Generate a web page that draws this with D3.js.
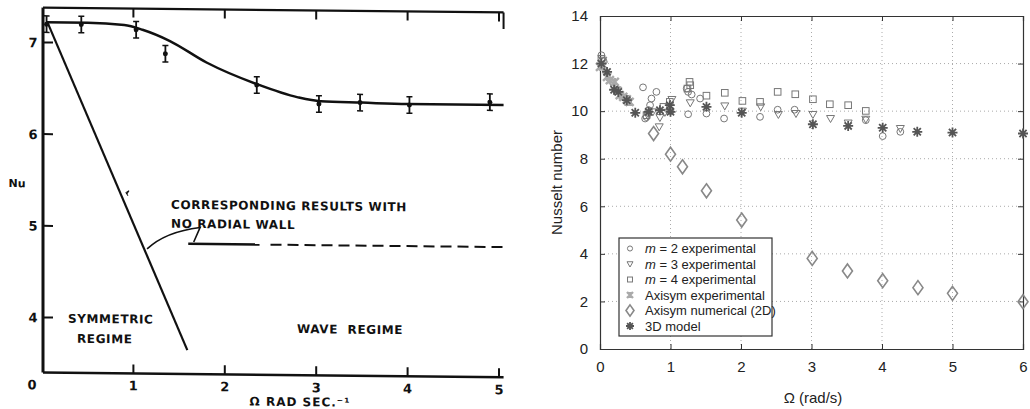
<!DOCTYPE html>
<meta charset="utf-8">
<script src="https://d3js.org/d3.v7.min.js"></script>
<style>body{margin:0;background:#fff}</style>
<svg width="1030" height="409"></svg>
<script>
// ---- left panel (old scan) ----
const leftOmega = [0.05, 0.43, 1.03, 1.35, 2.35, 3.03, 3.48, 4.02, 4.9]
const leftNu = [7.2, 7.2, 7.15, 6.89, 6.56, 6.36, 6.38, 6.36, 6.4]
const leftErr = 0.09
const fitOmega = [0.05, 0.5, 0.9, 1.1, 1.4, 1.8, 2.35, 2.8, 3.05, 3.5, 4.0, 5.05]
const fitNu = [7.22, 7.22, 7.2, 7.15, 7.03, 6.8, 6.57, 6.43, 6.39, 6.38, 6.37, 6.37]
const boundary = [[0.06, 7.22], [1.59, 3.66]]
const noWallSolid = [[1.6, 4.82], [2.38, 4.82]]
const noWallDashed = [[2.5, 4.82], [5.05, 4.82]]
const leftXTicks = [1, 2, 3, 4, 5]
const leftYTicks = [4, 5, 6, 7]

// ---- right panel ----
const m2Exp = [[0.02,12.35],[0.05,12.1],[0.24,10.88],[0.61,11.0],[0.64,9.69],[0.66,9.75],[0.69,10.04],[0.71,10.25],
  [0.73,10.53],[0.8,10.81],[1.0,10.0],[1.23,10.95],[1.25,10.81],[1.25,9.87],[1.3,10.7],[1.42,10.53],[1.51,9.9],
  [1.76,9.69],[2.27,9.76],[2.52,10.06],[2.76,10.06],[3.77,9.62],[4.01,8.95],[4.26,9.13]]
const m3Exp = [[0.04,12.14],[0.2,10.99],[0.35,10.53],[0.68,9.8],[0.75,9.97],[0.84,9.34],[0.85,9.73],[0.92,9.95],
  [1.02,10.49],[1.28,10.35],[1.77,10.22],[2.02,10.0],[2.28,10.18],[2.53,9.86],[2.78,9.9],[3.02,9.86],[3.27,9.69],
  [3.52,9.5],[3.77,9.66],[4.26,9.27]]
const m4Exp = [[0.02,12.2],[0.24,10.88],[0.4,10.39],[0.66,9.83],[0.9,10.18],[0.99,10.39],[1.24,10.95],[1.27,11.23],
  [1.28,11.09],[1.51,10.65],[1.77,10.77],[2.02,10.43],[2.27,10.39],[2.52,10.81],[2.77,10.71],[3.02,10.5],
  [3.26,10.29],[3.52,10.25],[3.77,10.01]]
const axiExp = [[0.0,11.86],[0.05,11.93],[0.1,11.44],[0.14,11.3],[0.21,11.23],[0.25,10.85],[0.28,10.67],
  [0.33,10.6],[0.38,10.5],[0.42,10.39]]
const axiNum = [[0.76,9.06],[1.0,8.19],[1.17,7.66],[1.51,6.65],[2.01,5.42],[3.01,3.81],[3.51,3.28],[4.01,2.87],
  [4.51,2.58],[5.0,2.34],[6.0,1.99]]
const model3D = [[0.02,12.0],[0.1,11.65],[0.2,10.9],[0.26,10.81],[0.38,10.46],[0.5,9.93],[0.69,9.97],[0.85,10.04],
  [0.99,10.25],[1.0,9.97],[1.51,10.18],[2.01,9.93],[3.02,9.45],[3.52,9.38],[4.01,9.3],[4.5,9.13],[5.0,9.1],[6.0,9.06]]
const rightXTicks = [0, 1, 2, 3, 4, 5, 6]
const rightYTicks = [0, 2, 4, 6, 8, 10, 12, 14]

const svg = d3.select('svg')
svg.append('rect').attr('width', 1030).attr('height', 409).attr('fill', 'white')

// ================= LEFT =================
const xL = d3.scaleLinear().domain([0, 5]).range([42, 499])
const yL = d3.scaleLinear().domain([3.4, 7]).range([372, 42])
const L = svg.append('g').attr('transform', 'skewY(0.6)')
const ink = '#111'
const lf = 'DejaVu Sans'

// frame
L.append('line').attr('x1', 43).attr('x2', 43).attr('y1', yL(3.4)).attr('y2', yL(7.38))
  .attr('stroke', ink).attr('stroke-width', 3)
L.append('line').attr('x1', 43).attr('x2', xL(5.05)).attr('y1', yL(3.4)).attr('y2', yL(3.4))
  .attr('stroke', ink).attr('stroke-width', 2.5)
L.append('line').attr('x1', 43).attr('x2', xL(5.05)).attr('y1', yL(7.38)).attr('y2', yL(7.38))
  .attr('stroke', ink).attr('stroke-width', 2.2)
L.append('line').attr('x1', xL(5.05)).attr('x2', xL(5.05)).attr('y1', yL(7.38)).attr('y2', yL(7.2))
  .attr('stroke', ink).attr('stroke-width', 2)

L.selectAll('.bt').data(leftXTicks).enter().append('line')
  .attr('x1', d => xL(d)).attr('x2', d => xL(d)).attr('y1', yL(3.4)).attr('y2', yL(3.4) - 9)
  .attr('stroke', ink).attr('stroke-width', 2)
L.selectAll('.tt').data(leftXTicks).enter().append('line')
  .attr('x1', d => xL(d)).attr('x2', d => xL(d)).attr('y1', yL(7.38)).attr('y2', yL(7.38) + 9)
  .attr('stroke', ink).attr('stroke-width', 2)
L.selectAll('.lt').data(leftYTicks).enter().append('line')
  .attr('x1', 43).attr('x2', 53).attr('y1', d => yL(d)).attr('y2', d => yL(d))
  .attr('stroke', ink).attr('stroke-width', 2)

L.selectAll('.xl').data([0].concat(leftXTicks)).enter().append('text')
  .attr('x', d => d === 0 ? 32 : xL(d)).attr('y', 389)
  .attr('text-anchor', 'middle').attr('font-family', lf).attr('font-weight', 'bold')
  .attr('font-size', 13).attr('fill', ink).text(d => d)
L.selectAll('.yl').data(leftYTicks).enter().append('text')
  .attr('x', 33).attr('y', d => yL(d) + 5)
  .attr('text-anchor', 'middle').attr('font-family', lf).attr('font-weight', 'bold')
  .attr('font-size', 13).attr('fill', ink).text(d => d)

L.append('text').attr('x', 17).attr('y', 187).attr('text-anchor', 'middle')
  .attr('font-family', lf).attr('font-weight', 'bold').attr('font-size', 11).attr('fill', ink).text('Nu')
L.append('text').attr('x', 300).attr('y', 403).attr('text-anchor', 'middle')
  .attr('font-family', lf).attr('font-weight', 'bold').attr('font-size', 12).attr('fill', ink)
  .attr('letter-spacing', 1).text('Ω RAD SEC.⁻¹')

// fitted curve
const fit = fitOmega.map((d, i) => [d, fitNu[i]])
L.append('path').datum(fit)
  .attr('d', d3.line().x(d => xL(d[0])).y(d => yL(d[1])).curve(d3.curveMonotoneX))
  .attr('fill', 'none').attr('stroke', ink).attr('stroke-width', 2.5)

// error bars + points
const pts = leftOmega.map((d, i) => [d, leftNu[i]])
const eb = L.selectAll('.eb').data(pts).enter().append('g')
eb.append('line').attr('x1', d => xL(d[0])).attr('x2', d => xL(d[0]))
  .attr('y1', d => yL(d[1] - leftErr)).attr('y2', d => yL(d[1] + leftErr)).attr('stroke', ink).attr('stroke-width', 1.8)
eb.append('line').attr('x1', d => xL(d[0]) - 3).attr('x2', d => xL(d[0]) + 3)
  .attr('y1', d => yL(d[1] - leftErr)).attr('y2', d => yL(d[1] - leftErr)).attr('stroke', ink).attr('stroke-width', 1.5)
eb.append('line').attr('x1', d => xL(d[0]) - 3).attr('x2', d => xL(d[0]) + 3)
  .attr('y1', d => yL(d[1] + leftErr)).attr('y2', d => yL(d[1] + leftErr)).attr('stroke', ink).attr('stroke-width', 1.5)
eb.append('circle').attr('cx', d => xL(d[0])).attr('cy', d => yL(d[1])).attr('r', 2.5).attr('fill', ink)

// stability boundary
const lineL = d3.line().x(d => xL(d[0])).y(d => yL(d[1]))
L.append('path').datum(boundary).attr('d', lineL).attr('fill', 'none').attr('stroke', ink).attr('stroke-width', 2.2)
L.append('path').datum(noWallSolid).attr('d', lineL).attr('fill', 'none').attr('stroke', ink).attr('stroke-width', 2.5)
L.append('path').datum(noWallDashed).attr('d', lineL).attr('fill', 'none').attr('stroke', ink)
  .attr('stroke-width', 2).attr('stroke-dasharray', '11,6')

// annotation leader and the small pen mark on the boundary
L.append('path')
  .attr('d', `M${xL(1.15)},${yL(4.76)} Q${xL(1.35)},${yL(4.95)} ${xL(1.73)},${yL(5.0)} L${xL(1.66)},${yL(4.84)}`)
  .attr('fill', 'none').attr('stroke', ink).attr('stroke-width', 1.6)
L.append('path')
  .attr('d', `M${xL(0.93)},${yL(5.36)} l2,-3 l-3,2 l2,3`)
  .attr('fill', 'none').attr('stroke', ink).attr('stroke-width', 1)

const note = [['CORRESPONDING RESULTS WITH', 171, 207], ['NO RADIAL WALL', 171, 226],
  ['SYMMETRIC', 68, 322], ['REGIME', 77, 342], ['WAVE  REGIME', 297, 330]]
L.selectAll('.note').data(note).enter().append('text')
  .attr('x', d => d[1]).attr('y', d => d[2])
  .attr('font-family', lf).attr('font-weight', 'bold').attr('font-size', 12).attr('fill', ink)
  .attr('letter-spacing', 0.6).style('white-space', 'pre').text(d => d[0])

// ================= RIGHT =================
const xR = d3.scaleLinear().domain([0, 6]).range([600, 1023])
const yR = d3.scaleLinear().domain([0, 14]).range([349, 16])
const R = svg.append('g')
const rf = 'Liberation Sans, Arial, sans-serif'
const axisCol = '#333'

// grid
R.selectAll('.gx').data(rightXTicks.slice(1, -1)).enter().append('line')
  .attr('x1', d => xR(d)).attr('x2', d => xR(d)).attr('y1', yR(0)).attr('y2', yR(14))
  .attr('stroke', '#aaa').attr('stroke-dasharray', '1,3')
R.selectAll('.gy').data(rightYTicks.slice(1, -1)).enter().append('line')
  .attr('x1', xR(0)).attr('x2', xR(6)).attr('y1', d => yR(d)).attr('y2', d => yR(d))
  .attr('stroke', '#aaa').attr('stroke-dasharray', '1,3')

// axes with inner ticks on all sides
const fmt = d3.format('d')
R.append('g').attr('transform', `translate(0,${yR(0)})`)
  .call(d3.axisBottom(xR).tickValues(rightXTicks).tickFormat(fmt).tickSize(-5).tickPadding(12))
R.append('g').attr('transform', `translate(0,${yR(14)})`)
  .call(d3.axisTop(xR).tickValues(rightXTicks).tickSize(-5).tickFormat(''))
R.append('g').attr('transform', `translate(${xR(0)},0)`)
  .call(d3.axisLeft(yR).tickValues(rightYTicks).tickFormat(fmt).tickSize(-5).tickPadding(12))
R.append('g').attr('transform', `translate(${xR(6)},0)`)
  .call(d3.axisRight(yR).tickValues(rightYTicks).tickSize(-5).tickFormat(''))
R.selectAll('.domain').attr('stroke', axisCol).attr('stroke-width', 1.2)
R.selectAll('.tick line').attr('stroke', axisCol)
R.selectAll('.tick text').attr('font-family', rf).attr('font-size', 15).attr('fill', '#222')

R.append('text').attr('transform', `translate(562,${yR(7)}) rotate(-90)`).attr('text-anchor', 'middle')
  .attr('font-family', rf).attr('font-size', 15).attr('fill', '#222').text('Nusselt number')
R.append('text').attr('x', 813).attr('y', 403).attr('text-anchor', 'middle')
  .attr('font-family', rf).attr('font-size', 15).attr('fill', '#222').text('Ω (rad/s)')

// marker shapes
const mk = {
  circle: (g, s) => g.append('circle').attr('r', 3.4 * s).attr('fill', 'none').attr('stroke', '#777').attr('stroke-width', 1),
  tri: (g, s) => g.append('path').attr('d', `M${-4 * s},${-3 * s}L${4 * s},${-3 * s}L0,${4 * s}Z`)
    .attr('fill', 'none').attr('stroke', '#777').attr('stroke-width', 1),
  square: (g, s) => g.append('rect').attr('x', -3.3 * s).attr('y', -3.3 * s).attr('width', 6.6 * s).attr('height', 6.6 * s)
    .attr('fill', 'none').attr('stroke', '#777').attr('stroke-width', 1),
  xmark: (g, s) => g.append('path').attr('d', `M${-4 * s},${-4 * s}L${4 * s},${4 * s}M${-4 * s},${4 * s}L${4 * s},${-4 * s}M0,${-4 * s}L0,${4 * s}`)
    .attr('fill', 'none').attr('stroke', '#aaa').attr('stroke-width', 2.4),
  diamond: (g, s) => g.append('path').attr('d', `M0,${-7 * s}L${5 * s},0L0,${7 * s}L${-5 * s},0Z`)
    .attr('fill', 'none').attr('stroke', '#888').attr('stroke-width', 1.6),
  star: (g, s) => g.append('path')
    .attr('d', `M${-5 * s},0L${5 * s},0M0,${-5 * s}L0,${5 * s}M${-3.6 * s},${-3.6 * s}L${3.6 * s},${3.6 * s}M${-3.6 * s},${3.6 * s}L${3.6 * s},${-3.6 * s}`)
    .attr('fill', 'none').attr('stroke', '#555').attr('stroke-width', 1.8)
}

const series = [
  {data: m2Exp, shape: 'circle', label: ['m', ' = 2 experimental']},
  {data: m3Exp, shape: 'tri', label: ['m', ' = 3 experimental']},
  {data: m4Exp, shape: 'square', label: ['m', ' = 4 experimental']},
  {data: axiExp, shape: 'xmark', label: ['', 'Axisym experimental']},
  {data: axiNum, shape: 'diamond', label: ['', 'Axisym numerical (2D)']},
  {data: model3D, shape: 'star', label: ['', '3D model']}
]

series.forEach(s => {
  R.append('g').selectAll('g').data(s.data).enter().append('g')
    .attr('transform', d => `translate(${xR(d[0])},${yR(d[1])})`)
    .each(function () { mk[s.shape](d3.select(this), 1) })
})

// legend
const lg = R.append('g').attr('transform', 'translate(619,238)')
lg.append('rect').attr('width', 153).attr('height', 98).attr('fill', 'white').attr('stroke', '#333').attr('stroke-width', 1.2)
series.forEach((s, i) => {
  const y = 10.5 + i * 15.5
  const g = lg.append('g').attr('transform', `translate(11,${y})`)
  mk[s.shape](g, s.shape === 'diamond' || s.shape === 'star' ? 0.8 : 0.75)
  const t = lg.append('text').attr('x', 26).attr('y', y + 4.5).attr('font-family', rf).attr('font-size', 13).attr('fill', '#222')
  if (s.label[0]) t.append('tspan').attr('font-style', 'italic').text(s.label[0])
  t.append('tspan').text(s.label[1])
})
</script>
